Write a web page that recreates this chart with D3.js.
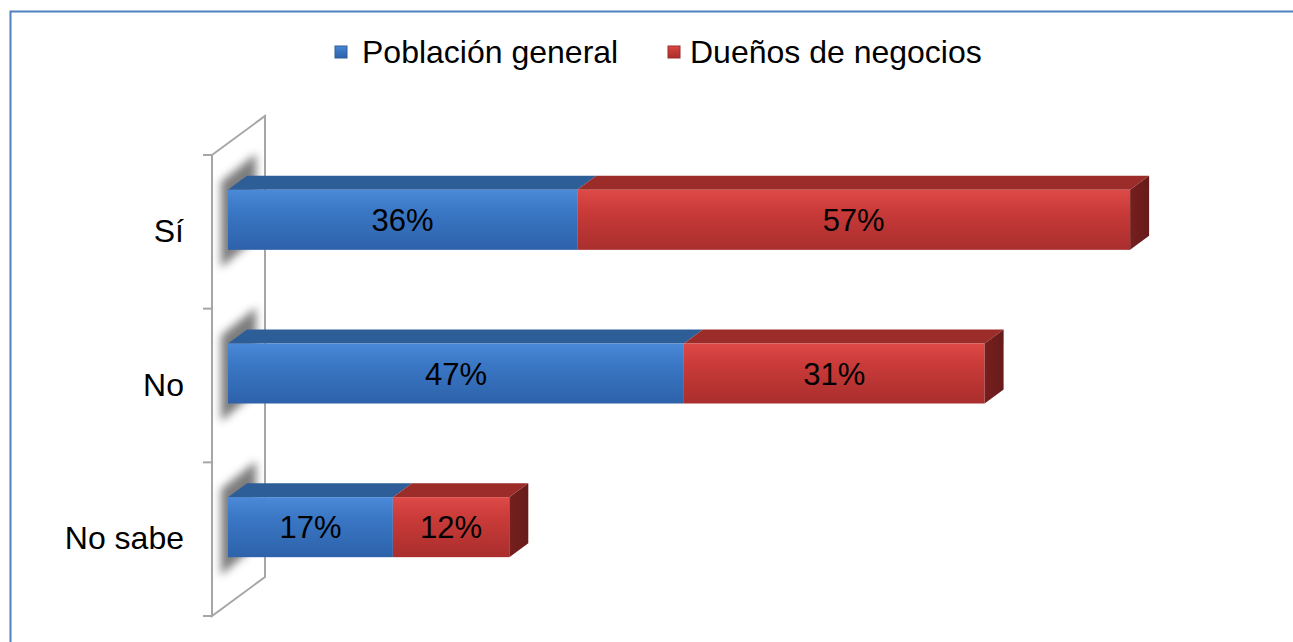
<!DOCTYPE html>
<html lang="es">
<head>
  <meta charset="UTF-8">
  <title></title>
  <style>
    html, body {
      margin: 0;
      background: #fff;
      overflow: hidden;
      width: 100%;
      height: 100%;
    }
    svg {
      position: absolute;
      top: 0;
      left: 0;
      font-family: "Liberation Sans", Arial, sans-serif;
    }
  </style>
</head>
<body>
  <svg width="1293" height="642"></svg>
</body>
<script src="https://d3js.org/d3.v7.min.js"></script>
<script type="text/javascript">
  const categories = ['Sí', 'No', 'No sabe']
  const seriesNames = ['Población general', 'Dueños de negocios']
  const poblacion = [36, 47, 17]
  const duenos = [57, 31, 12]

  const svg = d3.select('svg')
  const defs = svg.append('defs')

  // colors per series: front gradient stops, top face, side face
  const palette = [
    { front: ['#4b8ad8', '#3a77c5', '#2d62aa'], top: '#2e5e98', side: '#22497a' },
    { front: ['#de4a47', '#c93b39', '#a92e2d'], top: '#9b2c29', side: '#761f1e' }
  ]

  palette.forEach((p, i) => {
    const g = defs.append('linearGradient')
      .attr('id', 'front' + i)
      .attr('x1', 0).attr('y1', 0).attr('x2', 0).attr('y2', 1)
    g.append('stop').attr('offset', '0%').attr('stop-color', p.front[0])
    g.append('stop').attr('offset', '35%').attr('stop-color', p.front[1])
    g.append('stop').attr('offset', '100%').attr('stop-color', p.front[2])

    const s = defs.append('linearGradient')
      .attr('id', 'side' + i)
      .attr('x1', 0).attr('y1', 0).attr('x2', 1).attr('y2', 0)
    s.append('stop').attr('offset', '0%').attr('stop-color', p.side)
    s.append('stop').attr('offset', '100%').attr('stop-color', d3.color(p.side).darker(0.4))
  })

  defs.append('filter')
    .attr('id', 'blur')
    .attr('filterUnits', 'userSpaceOnUse')
    .attr('x', 150).attr('y', 0).attr('width', 200).attr('height', 642)
    .append('feGaussianBlur')
    .attr('stdDeviation', 4)

  // outer frame
  svg.append('path')
    .attr('d', 'M10.5,642 L10.5,11.5 L1293,11.5')
    .attr('fill', 'none')
    .attr('stroke', '#4f81bd')
    .attr('stroke-width', 2)

  const x = d3.scaleLinear().domain([0, 100]).range([228, 1198])
  const y = d3.scaleBand().domain(categories).range([155, 616])

  const wallX = 212
  const wallDx = 53
  const wallDy = 39
  const barH = 60
  const dx = 19
  const dy = 14

  // wall
  const wall = svg.append('g')
    .attr('fill', 'none')
    .attr('stroke', '#a6a6a6')
    .attr('stroke-width', 2)

  wall.append('path')
    .attr('d', `M${wallX},${y.range()[0]} L${wallX + wallDx},${y.range()[0] - wallDy}
      L${wallX + wallDx},${y.range()[1] - wallDy} L${wallX},${y.range()[1]} Z`)

  const tickYs = categories.map(c => y(c)).concat([y.range()[1]])
  wall.selectAll('line.tick')
    .data(tickYs)
    .enter()
    .append('line')
    .attr('x1', wallX - 9)
    .attr('x2', wallX)
    .attr('y1', d => d)
    .attr('y2', d => d)

  // category labels
  const axis = d3.axisLeft(y).tickSize(0).tickPadding(28)
  const ax = svg.append('g')
    .attr('transform', `translate(${wallX},0)`)
    .call(axis)
  ax.select('.domain').remove()
  ax.selectAll('text')
    .attr('font-family', '"Liberation Sans", Arial, sans-serif')
    .attr('font-size', 32)
    .attr('fill', '#000')

  const rows = categories.map((c, i) => ({ cat: c, vals: [poblacion[i], duenos[i]] }))
  const faceTop = d => y(d.cat) + (y.bandwidth() - barH) / 2 - 12

  // shadows on the wall, sheared like the wall
  svg.selectAll('polygon.shadow')
    .data(rows)
    .enter()
    .append('polygon')
    .attr('class', 'shadow')
    .attr('points', d => {
      const t = faceTop(d)
      return [[221, t - 8], [256, t - 36], [256, t + barH - 12], [221, t + barH + 18]].join(' ')
    })
    .attr('fill', '#666')
    .attr('opacity', 0.85)
    .attr('filter', 'url(#blur)')

  const bars = svg.selectAll('g.bar')
    .data(rows)
    .enter()
    .append('g')
    .attr('class', 'bar')

  bars.each(function (d) {
    const g = d3.select(this)
    const t = faceTop(d)
    let acc = 0
    const segs = d.vals.map((v, i) => {
      const s = { i, v, x0: x(acc), x1: x(acc + v) }
      acc += v
      return s
    })

    segs.forEach(s => {
      // top face
      g.append('polygon')
        .attr('points', [[s.x0, t], [s.x0 + dx, t - dy], [s.x1 + dx, t - dy], [s.x1, t]].join(' '))
        .attr('fill', palette[s.i].top)
      // front face
      g.append('rect')
        .attr('x', s.x0)
        .attr('y', t)
        .attr('width', s.x1 - s.x0)
        .attr('height', barH)
        .attr('fill', `url(#front${s.i})`)
    })

    const last = segs[segs.length - 1]
    g.append('polygon')
      .attr('points', [[last.x1, t], [last.x1 + dx, t - dy], [last.x1 + dx, t + barH - dy], [last.x1, t + barH]].join(' '))
      .attr('fill', `url(#side${last.i})`)

    g.selectAll('text')
      .data(segs)
      .enter()
      .append('text')
      .attr('x', s => (s.x0 + s.x1) / 2)
      .attr('y', t + barH / 2 + 11)
      .attr('text-anchor', 'middle')
      .attr('font-size', 31)
      .attr('fill', '#000')
      .text(s => s.v + '%')
  })

  // legend
  const legendX = [335, 668]
  const legend = svg.selectAll('g.legend')
    .data(seriesNames)
    .enter()
    .append('g')
    .attr('class', 'legend')
    .attr('transform', (d, i) => `translate(${legendX[i]},0)`)

  legend.append('rect')
    .attr('x', 0)
    .attr('y', 46)
    .attr('width', 12)
    .attr('height', 12)
    .attr('fill', (d, i) => `url(#front${i})`)
    .attr('stroke', (d, i) => palette[i].top)
    .attr('stroke-width', 1)

  legend.append('text')
    .attr('x', (d, i) => i === 0 ? 27 : 22)
    .attr('y', 63)
    .attr('font-size', 32)
    .attr('fill', '#000')
    .text(d => d)
</script>
</html>
